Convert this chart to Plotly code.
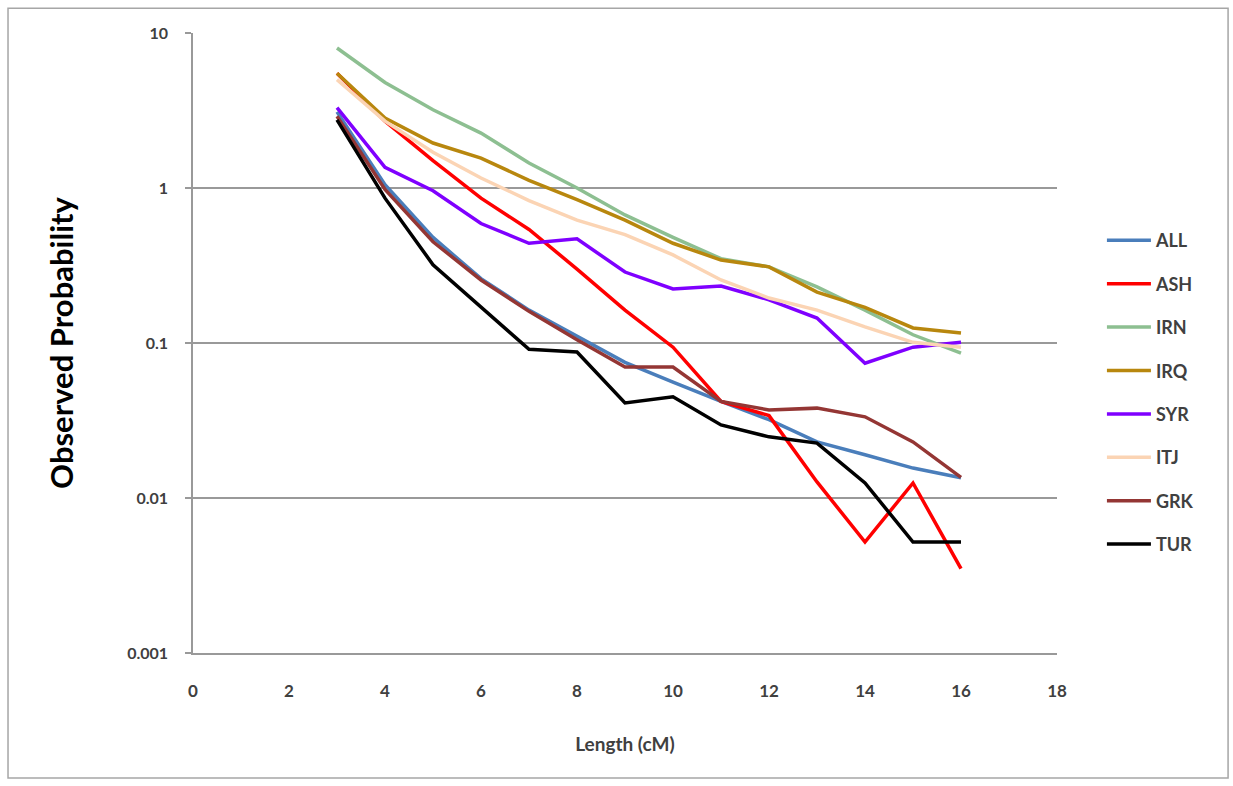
import plotly.graph_objects as go

length_cm = [3, 4, 5, 6, 7, 8, 9, 10, 11, 12, 13, 14, 15, 16]

ALL = [3.1, 1.05, 0.48, 0.26, 0.163, 0.111, 0.075, 0.056, 0.042, 0.032, 0.023, 0.019, 0.0156, 0.0135]
ASH = [5.5, 2.7, 1.5, 0.86, 0.54, 0.30, 0.163, 0.094, 0.042, 0.034, 0.0127, 0.0052, 0.0125, 0.0035]
IRN = [8.0, 4.8, 3.2, 2.26, 1.45, 1.0, 0.67, 0.48, 0.35, 0.31, 0.23, 0.163, 0.113, 0.086]
IRQ = [5.5, 2.83, 1.95, 1.56, 1.12, 0.84, 0.62, 0.44, 0.343, 0.31, 0.213, 0.17, 0.125, 0.116]
SYR = [3.3, 1.36, 0.96, 0.59, 0.44, 0.47, 0.287, 0.223, 0.233, 0.19, 0.145, 0.074, 0.094, 0.101]
ITJ = [5.0, 2.7, 1.7, 1.16, 0.83, 0.62, 0.5, 0.37, 0.255, 0.195, 0.163, 0.127, 0.101, 0.094]
GRK = [2.9, 0.98, 0.45, 0.255, 0.16, 0.105, 0.070, 0.070, 0.042, 0.037, 0.038, 0.0334, 0.023, 0.0136]
TUR = [2.75, 0.86, 0.32, 0.17, 0.091, 0.0875, 0.041, 0.045, 0.0296, 0.0248, 0.0226, 0.0125, 0.0052, 0.0052]

series_names = ["ALL", "ASH", "IRN", "IRQ", "SYR", "ITJ", "GRK", "TUR"]
series_values = [ALL, ASH, IRN, IRQ, SYR, ITJ, GRK, TUR]
series_colors = ["#4A7EBB", "#FF0000", "#8DBF91", "#B8870E", "#7F00FF", "#FBD4B4", "#943634", "#000000"]

y_tickvals = [0.001, 0.01, 0.1, 1, 10]
y_ticktext = ["0.001", "0.01", "0.1", "1", "10"]
x_tickvals = [0, 2, 4, 6, 8, 10, 12, 14, 16, 18]

FONT = "Lato"
GRID = "#999999"

fig = go.Figure()
for name, vals, col in zip(series_names, series_values, series_colors):
    fig.add_trace(go.Scatter(
        x=length_cm, y=vals, mode="lines", name=name,
        legendgroup=name,
        line=dict(color=col, width=3.5),
    ))

fig.update_layout(
    width=1233, height=786,
    margin=dict(l=193, r=176, t=33, b=133),
    paper_bgcolor="white", plot_bgcolor="white",
    font=dict(family=FONT, color="#404040"),
    showlegend=True,
    legend=dict(
        x=1.052, y=0.695, xanchor="left", yanchor="top",
        font=dict(family=FONT, size=18, color="#404040", weight="bold"),
        tracegroupgap=17, itemwidth=44,
        bgcolor="rgba(0,0,0,0)",
    ),
    xaxis=dict(
        range=[0, 18], tickvals=x_tickvals,
        showgrid=False, zeroline=False,
        showline=True, linecolor=GRID, linewidth=1.5,
        ticks="", ticklen=0, ticklabelstandoff=22,
        tickfont=dict(family=FONT, size=17, color="#404040", weight="bold"),
        title=dict(text="Length (cM)", standoff=38,
                   font=dict(family=FONT, size=19, color="#404040", weight="bold")),
    ),
    yaxis=dict(
        type="log", range=[-3, 1],
        tickvals=y_tickvals, ticktext=y_ticktext,
        showgrid=True, gridcolor=GRID, gridwidth=1.5,
        zeroline=False,
        showline=True, linecolor=GRID, linewidth=1.5,
        ticks="outside", ticklen=6, tickcolor=GRID, tickwidth=1.5,
        ticklabelstandoff=14,
        tickfont=dict(family=FONT, size=16, color="#404040", weight="bold"),
        title=dict(text="Observed Probability", standoff=44,
                   font=dict(family=FONT, size=31, color="#000000", weight="bold")),
    ),
    shapes=[dict(
        type="rect", xref="paper", yref="paper",
        x0=-0.2141, x1=1.198, y0=-0.2016, y1=1.040,
        line=dict(color="#A6A6A6", width=1.5), fillcolor="rgba(0,0,0,0)",
        layer="below",
    )],
)

fig.write_html("out.html")
